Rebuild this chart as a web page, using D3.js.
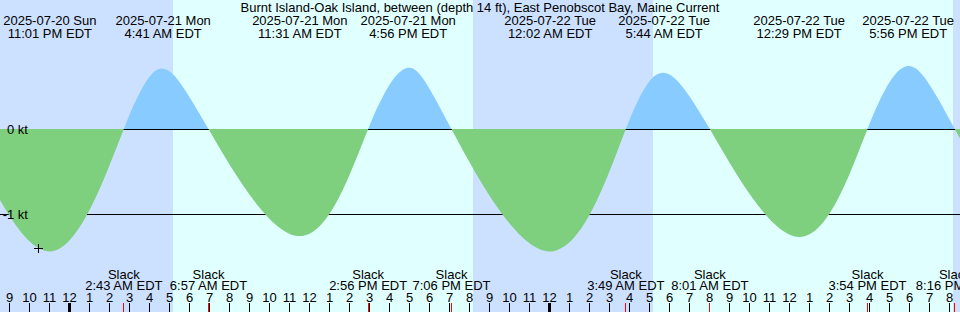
<!DOCTYPE html>
<html>
<head>
<meta charset="utf-8">
<script src="https://cdn.jsdelivr.net/npm/d3@7"></script>
<style>
  body { margin: 0; background: #fff; }
  svg { display: block; font-family: "Liberation Sans", Arial, sans-serif; font-size: 13px; }
</style>
</head>
<body>
<svg id="chart" width="960" height="312"></svg>
<script>
const width = 960
const height = 312

const title = "Burnt Island-Oak Island, between (depth 14 ft), East Penobscot Bay, Maine Current"

// window shown, local time (EDT)
const windowStart = "2025-07-20T20:31:30"
const windowEnd = "2025-07-22T20:31:30"

// max ebb / max flood
const peakTimes = ["2025-07-20T23:01", "2025-07-21T04:41", "2025-07-21T11:31", "2025-07-21T16:56",
                   "2025-07-22T00:02", "2025-07-22T05:44", "2025-07-22T12:29", "2025-07-22T17:56"]
const peakKnots = [-1.44, 0.71, -1.26, 0.72, -1.44, 0.66, -1.27, 0.74]

const slackTimes = ["2025-07-21T02:43", "2025-07-21T06:57", "2025-07-21T14:56", "2025-07-21T19:06",
                    "2025-07-22T03:49", "2025-07-22T08:01", "2025-07-22T15:54", "2025-07-22T20:16"]

// events just off the edges so the curve runs out of the frame
const edgeTimes = ["2025-07-20T14:20", "2025-07-20T16:20", "2025-07-20T18:45", "2025-07-23T00:55", "2025-07-23T04:45"]
const edgeKnots = [0, 0.72, 0, -1.43, 0]

const sunrises = ["2025-07-21T05:10", "2025-07-22T05:10"]
const sunsets  = ["2025-07-21T20:10", "2025-07-22T20:10"]

const levelTicks = [0, -1]

const markTime = "2025-07-20T22:27"
const markKnots = -1.41

const nightColor = "#cce0ff"
const dayColor = "#e0ffff"
const floodColor = "#88ccff"
const ebbColor = "#7ecf7e"

const parse = s => new Date(s + "Z")
const fmtDate = d3.utcFormat("%Y-%m-%d %a")
const fmtTime = d => d3.utcFormat("%-I:%M %p")(d) + " EDT"

const x = d3.scaleUtc()
  .domain([parse(windowStart), parse(windowEnd)])
  .range([0, width])

const y = d3.scaleLinear()
  .domain([-1, 0])
  .range([214, 129])

const peaks = peakTimes.map((t, i) => ({ t: parse(t), v: peakKnots[i] }))
const slacks = slackTimes.map(t => ({ t: parse(t), v: 0 }))
const edges = edgeTimes.map((t, i) => ({ t: parse(t), v: edgeKnots[i] }))
const points = peaks.concat(slacks, edges).sort((a, b) => a.t - b.t)

const svg = d3.select("#chart")

// night background, then daylight bands
svg.append("rect")
  .attr("width", width)
  .attr("height", height)
  .attr("fill", nightColor)

svg.selectAll(".day")
  .data(sunrises.map((s, i) => [parse(s), parse(sunsets[i])]))
  .join("rect")
    .attr("class", "day")
    .attr("x", d => Math.round(x(d[0])))
    .attr("width", d => Math.round(x(d[1])) - Math.round(x(d[0])))
    .attr("height", height)
    .attr("fill", dayColor)

// level lines sit under the fill
svg.selectAll(".level")
  .data(levelTicks)
  .join("line")
    .attr("class", "level")
    .attr("x1", 0)
    .attr("x2", width)
    .attr("y1", d => y(d) + 0.5)
    .attr("y2", d => y(d) + 0.5)
    .attr("stroke", "#000")

const defs = svg.append("defs")
defs.append("clipPath").attr("id", "above")
  .append("rect").attr("width", width).attr("height", y(0))
defs.append("clipPath").attr("id", "below")
  .append("rect").attr("y", y(0)).attr("width", width).attr("height", height - y(0))

const area = d3.area()
  .x(d => x(d.t))
  .y0(y(0))
  .y1(d => y(d.v))
  .curve(d3.curveNatural)

svg.append("path")
  .datum(points)
  .attr("d", area)
  .attr("fill", floodColor)
  .attr("clip-path", "url(#above)")

svg.append("path")
  .datum(points)
  .attr("d", area)
  .attr("fill", ebbColor)
  .attr("clip-path", "url(#below)")

// level labels
svg.selectAll(".levelLabel")
  .data(levelTicks)
  .join("text")
    .attr("class", "levelLabel")
    .attr("x", 28)
    .attr("y", d => y(d) + 4.5)
    .attr("text-anchor", "end")
    .text(d => `${d} kt`)

// title and peak labels
svg.append("text")
  .attr("x", width / 2)
  .attr("y", 12)
  .attr("text-anchor", "middle")
  .text(title)

const peakLabel = svg.selectAll(".peak")
  .data(peaks)
  .join("text")
    .attr("class", "peak")
    .attr("text-anchor", "middle")
peakLabel.append("tspan")
  .attr("x", d => x(d.t))
  .attr("y", 25)
  .text(d => fmtDate(d.t))
peakLabel.append("tspan")
  .attr("x", d => x(d.t))
  .attr("y", 37.5)
  .text(d => fmtTime(d.t))

// slack labels
const slackLabel = svg.selectAll(".slack")
  .data(slacks)
  .join("text")
    .attr("class", "slack")
    .attr("text-anchor", "middle")
slackLabel.append("tspan")
  .attr("x", d => x(d.t))
  .attr("y", 278.5)
  .text("Slack")
slackLabel.append("tspan")
  .attr("x", d => x(d.t))
  .attr("y", 289.5)
  .text(d => fmtTime(d.t))

// hour axis
const hours = d3.utcHour.range(x.domain()[0], x.domain()[1])

svg.selectAll(".hourTick")
  .data(hours)
  .join("line")
    .attr("class", "hourTick")
    .attr("x1", d => x(d))
    .attr("x2", d => x(d))
    .attr("y1", 303)
    .attr("y2", height)
    .attr("stroke", "#000")
    .attr("stroke-width", d => d.getUTCHours() === 0 ? 3 : 1)

svg.selectAll(".slackTick")
  .data(slacks)
  .join("line")
    .attr("class", "slackTick")
    .attr("x1", d => Math.floor(x(d.t)) + 0.5)
    .attr("x2", d => Math.floor(x(d.t)) + 0.5)
    .attr("y1", 303)
    .attr("y2", height)
    .attr("stroke", "#ff0000")

svg.selectAll(".hourLabel")
  .data(hours)
  .join("text")
    .attr("class", "hourLabel")
    .attr("x", d => x(d))
    .attr("y", 301.5)
    .attr("text-anchor", "middle")
    .text(d => d3.utcFormat("%-I")(d))

// current-time mark
const mx = Math.floor(x(parse(markTime))) + 0.5
const my = Math.floor(y(markKnots)) + 0.5
svg.append("path")
  .attr("d", `M${mx - 4.5},${my}H${mx + 4.5}M${mx},${my - 4.5}V${my + 4.5}`)
  .attr("stroke", "#000")
</script>
</body>
</html>
